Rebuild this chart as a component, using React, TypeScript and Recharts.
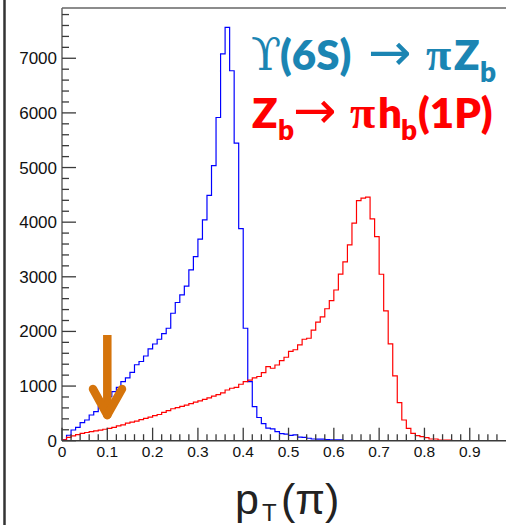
import React from 'react';
import { LineChart, Line, XAxis, YAxis, ReferenceLine } from 'recharts';

// histogram bin contents, 0.01-wide bins starting at pT = 0
const blueCounts = [
  15, 100, 196, 245, 330, 379, 470, 531, 623, 715,
  806, 898, 977, 1081, 1150, 1250, 1390, 1450, 1550, 1680,
  1770, 1857, 1960, 2058, 2333, 2530, 2668, 2830, 3126, 3370,
  3690, 4042, 4490, 5035, 5916, 7082, 7564, 6771, 5447, 3883,
  2058, 1081, 623, 425, 312, 230, 215, 165, 128, 120,
  98, 106, 66, 60, 45, 31, 30, 28, 18, 16,
  15, 14,
];
const redCounts = [
  15, 60, 90, 110, 135, 150, 165, 180, 195, 210,
  225, 245, 270, 290, 320, 340, 360, 385, 410, 430,
  460, 480, 520, 550, 585, 605, 630, 650, 680, 705,
  730, 755, 785, 815, 845, 875, 928, 960, 975, 1033,
  1080, 1110, 1150, 1175, 1245, 1355, 1326, 1386, 1465, 1527,
  1635, 1665, 1753, 1857, 1875, 2025, 2170, 2265, 2415, 2564,
  2758, 3050, 3272, 3584, 3981, 4395, 4439, 4457, 4060, 3736,
  3047, 2375, 1771, 1185, 696, 379, 227, 135, 92, 73,
  55, 31, 31, 13, 13, 13, 0, 0, 0, 0,
  0, 0, 0, 0, 0, 0, 0, 0, 0, 0,
];

const xMajorTicks = [0, 0.1, 0.2, 0.3, 0.4, 0.5, 0.6, 0.7, 0.8, 0.9];
const xTickLabels = ['0', '0.1', '0.2', '0.3', '0.4', '0.5', '0.6', '0.7', '0.8', '0.9'];
const yMajorTicks = [0, 1000, 2000, 3000, 4000, 5000, 6000, 7000];
const yTickLabels = ['0', '1000', '2000', '3000', '4000', '5000', '6000', '7000'];

// annotation arrow (data coordinates)
const arrowShaft = [{ x: 0.1, y: 1935 }, { x: 0.1, y: 520 }];
const arrowArmLeft = [{ x: 0.0684, y: 946 }, { x: 0.1, y: 470 }];
const arrowArmRight = [{ x: 0.1324, y: 946 }, { x: 0.1, y: 470 }];

const xTicksAll: number[] = [];
for (let i = 0; i <= 48; i++) xTicksAll.push((i * 2) / 100);
const yTicksAll: number[] = [];
for (let i = 0; i <= 39; i++) yTicksAll.push(i * 200);

const rows: any[] = [{ x: 0, blue: 0, red: 0 }];
for (let i = 0; i < 100; i++) {
  rows.push({
    x: i / 100,
    blue: i < blueCounts.length ? blueCounts[i] : i === blueCounts.length ? 0 : null,
    red: redCounts[i],
  });
}
rows.push({ x: 1, blue: null, red: redCounts[99] });

const AXIS = '#3a3a3a';
const SANS = '"Liberation Sans", Arial, Helvetica, sans-serif';

const YTick = (props: any) => {
  const { x, y, payload } = props;
  const v = payload.value;
  const major = v % 1000 === 0;
  const ax = x + 5;
  const idx = yMajorTicks.indexOf(v);
  return (
    <g>
      <line x1={ax} x2={ax + (major ? 14 : 7)} y1={y} y2={y} stroke={AXIS} strokeWidth={1.3} />
      {major && idx >= 0 && (
        <text x={x} y={y} dy={6} textAnchor="end" fontSize={17} fontFamily={SANS} fill="#111">
          {yTickLabels[idx]}
        </text>
      )}
    </g>
  );
};

const XTick = (props: any) => {
  const { x, y, payload } = props;
  const k = Math.round(payload.value * 100);
  const major = k % 10 === 0;
  const idx = xMajorTicks.findIndex((t) => Math.round(t * 100) === k);
  return (
    <g>
      <line x1={x} x2={x} y1={y} y2={y - (major ? 13 : 6.5)} stroke={AXIS} strokeWidth={1.3} />
      {major && idx >= 0 && (
        <text x={x} y={y + 16.5} textAnchor="middle" fontSize={15.5} fontFamily={SANS} fill="#111">
          {xTickLabels[idx]}
        </text>
      )}
    </g>
  );
};

const TEAL = '#1b85b3';
const RED = '#ff0000';
const BOLD = 'Lato, "Open Sans", sans-serif';
const SERIF = '"DejaVu Serif", "Liberation Serif", serif';
const PI = '"Liberation Serif", "DejaVu Serif", serif';
const ARROWF = '"DejaVu Sans", sans-serif';

export default function App() {
  return (
    <div style={{ position: 'absolute', left: 0, top: 0, width: 506, height: 525, overflow: 'hidden', background: '#fff' }}>
      <LineChart width={506} height={525} data={rows} margin={{ top: 8, right: 0, left: 0, bottom: 54.3 }}>
        <XAxis
          type="number"
          dataKey="x"
          domain={[0, 0.98]}
          allowDataOverflow
          ticks={xTicksAll}
          interval={0}
          tick={<XTick />}
          tickLine={false}
          tickSize={0}
          tickMargin={0}
          height={30}
          axisLine={{ stroke: AXIS, strokeWidth: 1.5 }}
        />
        <YAxis
          type="number"
          domain={[0, 7920]}
          allowDataOverflow
          ticks={yTicksAll}
          interval={0}
          tick={<YTick />}
          tickLine={false}
          tickSize={0}
          tickMargin={5}
          width={62}
          axisLine={{ stroke: '#666', strokeWidth: 1.5 }}
        />
        <ReferenceLine y={7920} stroke="#666" strokeWidth={1.5} />
        <Line type="stepAfter" dataKey="blue" stroke="#0000ff" strokeWidth={1.2} dot={false} activeDot={false} isAnimationActive={false} connectNulls={false} />
        <Line type="stepAfter" dataKey="red" stroke="#ff0000" strokeWidth={1.2} dot={false} activeDot={false} isAnimationActive={false} />
        <ReferenceLine segment={arrowShaft} stroke="#d5740b" strokeWidth={8.5} />
        <ReferenceLine segment={arrowArmLeft} stroke="#d5740b" strokeWidth={8.5} strokeLinecap="round" />
        <ReferenceLine segment={arrowArmRight} stroke="#d5740b" strokeWidth={8.5} strokeLinecap="round" />
      </LineChart>
      <svg width={506} height={525} style={{ position: 'absolute', left: 0, top: 0, pointerEvents: 'none' }}>
        <line x1={4.5} x2={4.5} y1={0} y2={525} stroke="#333" strokeWidth={2.5} />
        {/* line 1 */}
        <g fill={TEAL}>
          <text x={251} y={70} fontSize={44} fontFamily={SERIF}>ϒ</text>
          <text x={280} y={70} fontSize={42} fontFamily={BOLD} fontWeight={800}>(6S)</text>
          <text x={368} y={70} fontSize={52} fontFamily={ARROWF}>→</text>
          <text x={426} y={70} fontSize={46} fontFamily={PI} fontWeight="bold">π</text>
          <text x={454} y={70} fontSize={42} fontFamily={BOLD} fontWeight={800}>Z</text>
          <text x={480} y={82} fontSize={28} fontFamily={BOLD} fontWeight={800}>b</text>
        </g>
        {/* line 2 */}
        <g fill={RED}>
          <text x={252} y={128} fontSize={42} fontFamily={BOLD} fontWeight={800}>Z</text>
          <text x={278} y={140} fontSize={28} fontFamily={BOLD} fontWeight={800}>b</text>
          <text x={293} y={128} fontSize={52} fontFamily={ARROWF}>→</text>
          <text x={350} y={128} fontSize={46} fontFamily={PI} fontWeight="bold">π</text>
          <text x={378} y={128} fontSize={42} fontFamily={BOLD} fontWeight={800}>h</text>
          <text x={401} y={140} fontSize={28} fontFamily={BOLD} fontWeight={800}>b</text>
          <text x={418} y={128} fontSize={42} fontFamily={BOLD} fontWeight={800}>(1P)</text>
        </g>
        {/* x axis title */}
        <g fill="#222" fontFamily={SANS}>
          <text x={235} y={514} fontSize={43}>p</text>
          <text x={262} y={521} fontSize={24}>T</text>
          <text x={281} y={514} fontSize={43}>(π)</text>
        </g>
      </svg>
    </div>
  );
}
